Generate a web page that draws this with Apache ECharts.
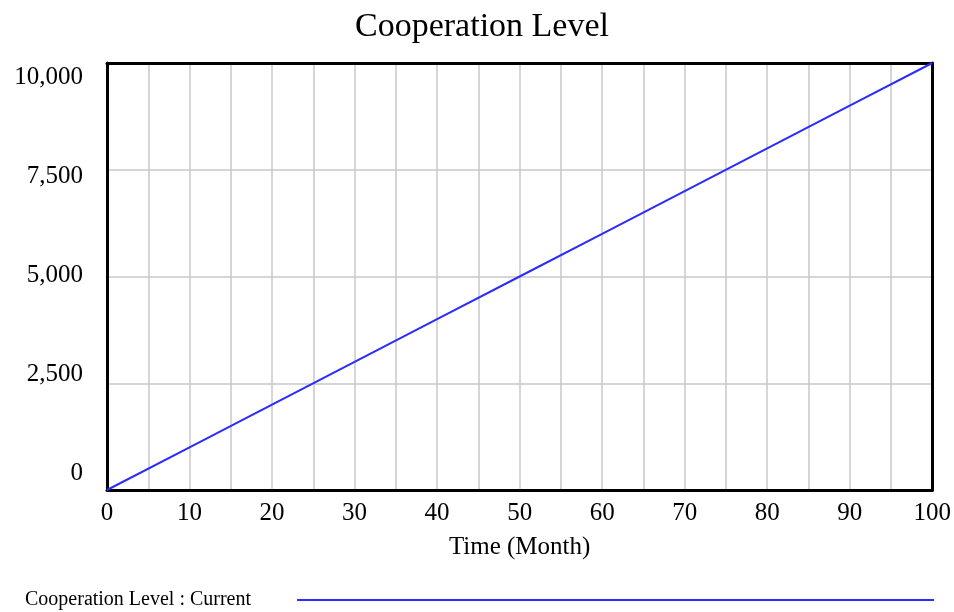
<!DOCTYPE html>
<html>
<head>
<meta charset="utf-8">
<script src="https://cdn.jsdelivr.net/npm/echarts@6/dist/echarts.min.js"></script>
<style>html,body{margin:0;padding:0;background:#fff;}#c{width:954px;height:612px;}</style>
</head>
<body>
<div id="c"></div>
<script>
const titleText = 'Cooperation Level';
const xName = 'Time (Month)';
const seriesName = 'Cooperation Level : Current';
const months = [0, 10, 20, 30, 40, 50, 60, 70, 80, 90, 100];
const cooperation = [0, 1000, 2000, 3000, 4000, 5000, 6000, 7000, 8000, 9000, 10000];
const yTicks = [0, 2500, 5000, 7500, 10000];

const font = '"Liberation Serif", serif';
const grey = { color: '#c8c8c8', width: 1.5 };
const frame = { show: true, onZero: false, lineStyle: { color: '#000', width: 3 } };
const chart = echarts.init(document.getElementById('c'));
chart.setOption({
  animation: false,
  backgroundColor: '#fff',
  title: {
    text: titleText, left: 350, top: 5,
    textStyle: { fontFamily: font, fontSize: 34, fontWeight: 'normal', color: '#000' }
  },
  legend: {
    left: 20, top: 585, align: 'right', itemWidth: 637, itemHeight: 2, icon: 'rect',
    textStyle: { fontFamily: font, fontSize: 20, color: '#000', padding: [0, 41, 0, 0] },
    data: [seriesName]
  },
  grid: { left: 107, right: 19, top: 63, bottom: 122 },
  xAxis: [
    {
      type: 'value', min: 0, max: 100, interval: 10,
      name: xName, nameLocation: 'middle', nameGap: 45,
      nameTextStyle: { fontFamily: font, fontSize: 25, color: '#000' },
      axisLine: frame, axisTick: { show: false },
      axisLabel: { fontFamily: font, fontSize: 25, color: '#000', margin: 11 },
      splitLine: { show: true, lineStyle: grey },
      minorTick: { show: false, splitNumber: 2 },
      minorSplitLine: { show: true, lineStyle: grey }
    },
    {
      type: 'value', position: 'top', min: 0, max: 100,
      axisLine: frame, axisTick: { show: false }, axisLabel: { show: false },
      splitLine: { show: false }
    }
  ],
  yAxis: [
    {
      type: 'value', min: 0, max: 10000, interval: 2500,
      axisLine: frame, axisTick: { show: false },
      axisLabel: { show: false },
      splitLine: { show: true, lineStyle: grey }
    },
    {
      type: 'value', position: 'left', min: -430, max: 10354,
      axisLine: { show: false, onZero: false }, axisTick: { show: false },
      splitLine: { show: false },
      axisLabel: {
        customValues: yTicks, margin: 24, fontFamily: font, fontSize: 25, color: '#000',
        formatter: v => v.toLocaleString('en-US')
      }
    },
    {
      type: 'value', position: 'right', min: 0, max: 10000,
      axisLine: frame, axisTick: { show: false }, axisLabel: { show: false },
      splitLine: { show: false }
    }
  ],
  series: [{
    name: seriesName, type: 'line', xAxisIndex: 0, yAxisIndex: 0,
    data: months.map((m, i) => [m, cooperation[i]]),
    showSymbol: false, symbol: 'none', z: 1,
    lineStyle: { color: '#2b2bff', width: 2 }, itemStyle: { color: '#2b2bff' }
  }]
});
</script>
</body>
</html>
